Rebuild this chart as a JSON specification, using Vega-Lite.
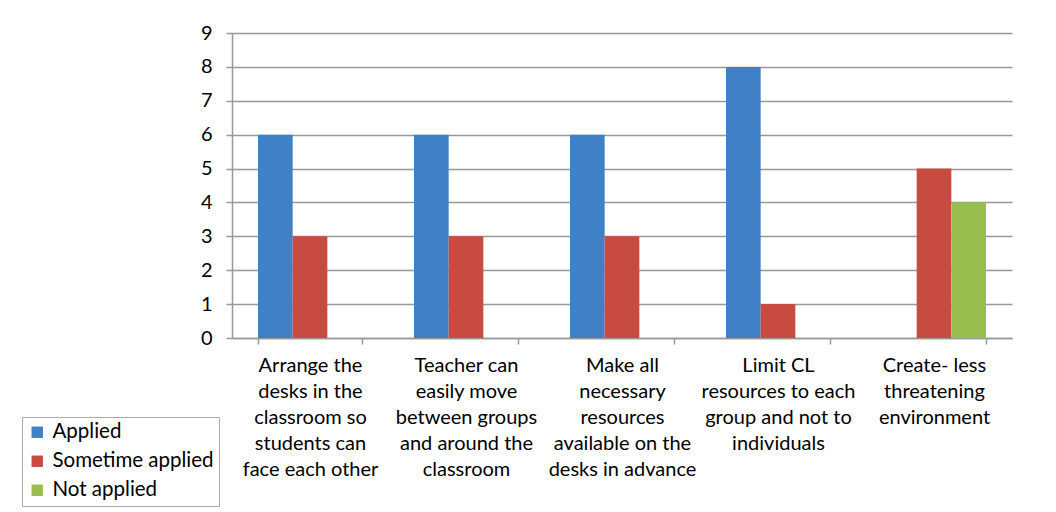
{
  "$schema": "https://vega.github.io/schema/vega-lite/v6.json",
  "autosize": "none",
  "width": 780,
  "height": 305,
  "padding": {"left": 232, "top": 33, "right": 44, "bottom": 174},
  "background": "white",
  "config": {
    "font": "Lato",
    "view": {"stroke": null},
    "axis": {"domainColor": "#999999", "tickColor": "#999999", "gridColor": "#999999", "domainWidth": 1.5, "tickWidth": 1.5, "gridWidth": 1.5, "labelColor": "#000000", "labelFont": "Lato"}
  },
  "data": {
    "values": [
      {"cat": "Arrange the|desks in the|classroom so|students can|face each other", "series": "Applied", "value": 6, "o": 1},
      {"cat": "Arrange the|desks in the|classroom so|students can|face each other", "series": "Sometime applied", "value": 3, "o": 1},
      {"cat": "Arrange the|desks in the|classroom so|students can|face each other", "series": "Not applied", "value": 0, "o": 1},
      {"cat": "Teacher can|easily move|between groups|and around the|classroom", "series": "Applied", "value": 6, "o": 2},
      {"cat": "Teacher can|easily move|between groups|and around the|classroom", "series": "Sometime applied", "value": 3, "o": 2},
      {"cat": "Teacher can|easily move|between groups|and around the|classroom", "series": "Not applied", "value": 0, "o": 2},
      {"cat": "Make all|necessary|resources|available on the|desks in advance", "series": "Applied", "value": 6, "o": 3},
      {"cat": "Make all|necessary|resources|available on the|desks in advance", "series": "Sometime applied", "value": 3, "o": 3},
      {"cat": "Make all|necessary|resources|available on the|desks in advance", "series": "Not applied", "value": 0, "o": 3},
      {"cat": "Limit CL|resources to each|group and not to|individuals", "series": "Applied", "value": 8, "o": 4},
      {"cat": "Limit CL|resources to each|group and not to|individuals", "series": "Sometime applied", "value": 1, "o": 4},
      {"cat": "Limit CL|resources to each|group and not to|individuals", "series": "Not applied", "value": 0, "o": 4},
      {"cat": "Create- less|threatening|environment", "series": "Applied", "value": 0, "o": 5},
      {"cat": "Create- less|threatening|environment", "series": "Sometime applied", "value": 5, "o": 5},
      {"cat": "Create- less|threatening|environment", "series": "Not applied", "value": 4, "o": 5}
    ]
  },
  "mark": {"type": "bar"},
  "encoding": {
    "x": {
      "field": "cat", "type": "nominal", "sort": {"field": "o"},
      "scale": {"paddingInner": 0.3333, "paddingOuter": 0.1667},
      "axis": {"title": null, "labelAngle": 0, "labelExpr": "split(datum.label, '|')", "labelFontSize": 20, "labelLineHeight": 26, "labelPadding": 11, "tickBand": "extent", "tickSize": 6, "labelBaseline": "top"}
    },
    "xOffset": {"field": "series", "type": "nominal", "sort": ["Applied", "Sometime applied", "Not applied"], "scale": {"paddingInner": 0, "paddingOuter": 0}},
    "y": {
      "field": "value", "type": "quantitative",
      "scale": {"domain": [0, 9], "nice": false},
      "axis": {"title": null, "values": [0,1,2,3,4,5,6,7,8,9], "labelOverlap": false, "labelFontSize": 20, "labelPadding": 14, "tickSize": 6, "grid": true}
    },
    "color": {
      "field": "series", "type": "nominal",
      "sort": ["Applied", "Sometime applied", "Not applied"],
      "scale": {"domain": ["Applied", "Sometime applied", "Not applied"], "range": ["#3f80c6", "#c84b42", "#9abd50"]},
      "legend": {"title": null, "orient": "none", "legendX": -210, "legendY": 384, "symbolType": "square", "symbolSize": 130, "labelFontSize": 20.5, "labelLimit": 400, "labelColor": "#000000", "rowPadding": 8, "strokeColor": "#aaaaaa", "padding": 5, "symbolStrokeWidth": 0, "labelOffset": 5, "fillColor": "white"}
    }
  }
}
